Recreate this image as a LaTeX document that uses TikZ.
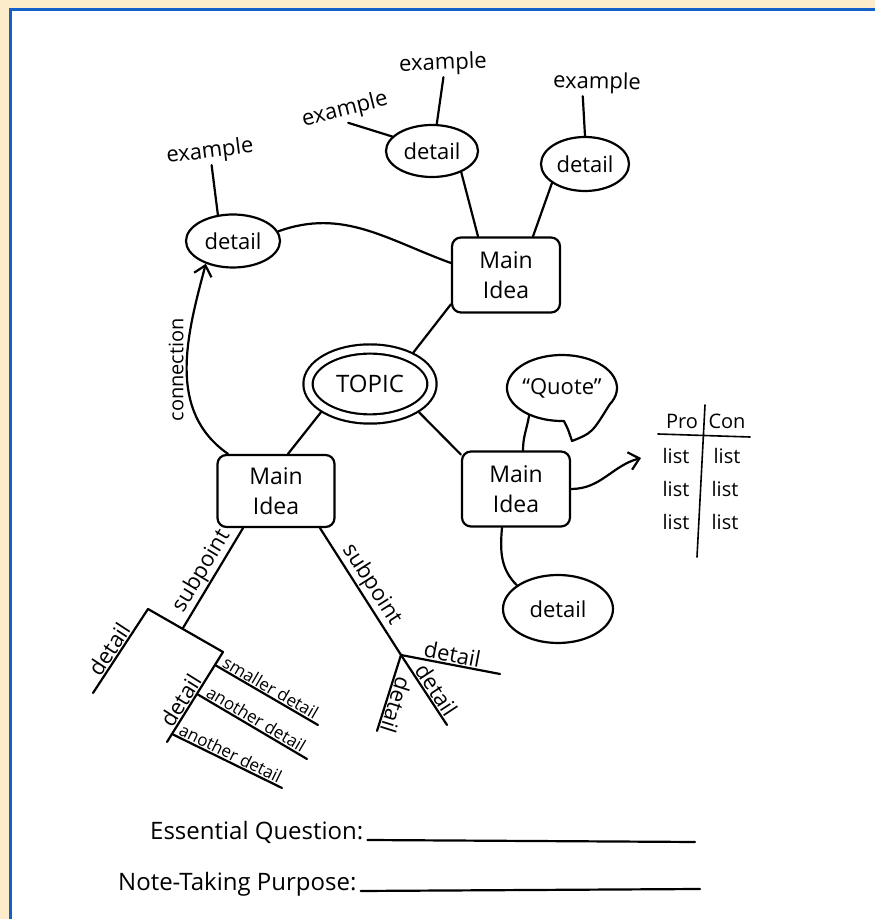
\documentclass[tikz,border=0pt]{standalone}
\usepackage{fontspec}
\setmainfont{Open Sans}
\usepackage{tikz}
\usetikzlibrary{arrows.meta,positioning,shapes.geometric}
\definecolor{pagebeige}{RGB}{253,236,201}
\definecolor{frameblue}{RGB}{18,96,200}
\tikzset{
  pen/.style={draw=black,line width=2.2pt,line cap=round,line join=round},
  hand/.style={font=\fontsize{22}{30}\selectfont,inner sep=2pt},
  tablehand/.style={font=\fontsize{20}{24}\selectfont,inner sep=2pt},
  smallhand/.style={font=\fontsize{17}{20}\selectfont},
  detailbubble/.style={
    pen,ellipse,hand,minimum width=92pt,minimum height=52pt,inner sep=0pt
  },
  ideabox/.style={
    pen,rectangle,rounded corners=9pt,hand,align=center,
    font=\fontsize{23}{30}\selectfont,minimum width=108pt,minimum height=75pt
  },
  topicring/.style={
    ellipse,draw=black,line width=2.2pt,double=white,double distance=7pt,
    minimum width=124pt,minimum height=70pt,outer sep=6pt,
    font=\fontsize{24}{28}\selectfont
  },
  linelabel/.style={hand,sloped,above,inner sep=1pt},
  openarrow/.style={pen,-{Straight Barb[length=10pt,width=18pt]}},
  askline/.style={font=\fontsize{24}{28}\selectfont,anchor=base west,inner sep=0pt}
}
\begin{document}
\begin{tikzpicture}[x=1pt,y=1pt]
  \useasboundingbox (0,0) rectangle (875,919);
  \fill[pagebeige] (0,0) rectangle (875,919);
  \fill[white] (10,0) rectangle (875,910);
  \draw[frameblue,line width=3pt] (10.5,0) -- (10.5,909.5) -- (875,909.5);

  \node[topicring] (topic) at (370,535) {TOPIC};
  \node[ideabox] (mT) at (506,644) {Main\\Idea};
  \node[ideabox,minimum width=117pt,minimum height=72pt] (mL) at (276,428) {Main\\Idea};
  \node[ideabox] (mR) at (516,430) {Main\\Idea};
  \node[detailbubble,minimum width=94pt,minimum height=53pt] (dTL) at (233,678) {detail};
  \node[detailbubble] (dT) at (432,768) {detail};
  \node[detailbubble,minimum width=88pt,minimum height=54pt] (dR) at (585,755) {detail};
  \node[detailbubble,minimum width=110pt,minimum height=68pt] (dB) at (558,310) {detail};
  \node[hand,rotate=7] (exTL) at (210,767) {example};
  \node[hand,rotate=2] (exT) at (443,855) {example};
  \node[hand,rotate=14] (exL) at (345,809) {example};
  \node[hand,rotate=-1] (exR) at (597,836) {example};
  \node[hand,ellipse,minimum width=110pt,minimum height=66pt] (quote) at (562,531) {``Quote''};
  \draw[pen] (609.6,514.5) arc[start angle=-30,end angle=272,x radius=55,y radius=33]
    .. controls (568,490) .. (572,478) .. controls (592,486) .. (609.6,514.5);

  \draw[pen] (exTL.south) -- (dTL.120);
  \draw[pen] (exT.south) -- (dT.80);
  \draw[pen] (exL.south) -- (dT.160);
  \draw[pen] ([xshift=-14pt]exR.south) -- (dR.north);
  \draw[pen] (dT.-36) -- ([xshift=-28pt]mT.north);
  \draw[pen] (dR.-150) -- ([xshift=27pt]mT.north);
  \draw[pen] (dTL.12) to[out=20,in=160] ([yshift=12pt]mT.west);
  \draw[pen] (mT.-152) -- (topic.36);
  \draw[pen] (topic.-150) -- ([xshift=12pt]mL.north);
  \draw[pen] (topic.-30) -- (mR.148);
  \draw[openarrow] ([xshift=-48pt]mL.north) to[out=145,in=-105]
    node[tablehand,pos=0.5,rotate=90,anchor=south] (connlabel) {connection} (dTL.-140);
  \draw[pen] (quote.-140) to[out=-100,in=90] ([xshift=7pt]mR.north);
  \draw[pen] ([xshift=-14pt]mR.south) to[out=-95,in=135] (dB.150);

  \coordinate (tableleft) at (641,461);
  \coordinate (tabletop) at (705,514);
  \coordinate (tablebottom) at (697,362);
  \coordinate (ruleleft) at (658,485);
  \coordinate (ruleright) at (750,482);
  \draw[openarrow] (mR.east) to[out=0,in=195] (tableleft);
  \draw[pen,line width=1.6pt] (tabletop) -- (tablebottom);
  \draw[pen,line width=1.6pt] (ruleleft) -- (ruleright);
  \node[tablehand,anchor=base] (pro) at (682,490) {Pro};
  \node[tablehand,anchor=base] (con) at (727,490) {Con};
  \node[tablehand,anchor=base] (proA) at (676,455) {list};
  \node[tablehand,anchor=base] (proB) at (676,422) {list};
  \node[tablehand,anchor=base] (proC) at (676,389) {list};
  \node[tablehand,anchor=base] (conA) at (727,455) {list};
  \node[tablehand,anchor=base] (conB) at (725,422) {list};
  \node[tablehand,anchor=base] (conC) at (725,389) {list};

  \coordinate (lfork) at (183,291);
  \coordinate (lbrackL) at (148,310);
  \coordinate (lbrackR) at (223,267);
  \coordinate (ldetA) at (93,226);
  \coordinate (ldetB) at (167,177);
  \coordinate (lsmallS) at (215,254);
  \coordinate (lsmallE) at (318,194);
  \coordinate (lanoS) at (197,225);
  \coordinate (lanoE) at (307,160);
  \coordinate (lanoSS) at (172,185);
  \coordinate (lanoEE) at (282,131);
  \draw[pen] ([xshift=-33pt]mL.south) -- node[linelabel] {subpoint} (lfork);
  \draw[pen] (lbrackL) -- (lbrackR);
  \draw[pen] (lbrackL) -- node[linelabel,pos=0.55] {detail} (ldetA);
  \draw[pen] (lbrackR) -- node[linelabel,pos=0.6] {detail} (ldetB);
  \draw[pen] (lsmallS) -- node[linelabel,smallhand] {smaller detail} (lsmallE);
  \draw[pen] (lanoS) -- node[linelabel,smallhand] {another detail} (lanoE);
  \draw[pen] (lanoSS) -- node[linelabel,smallhand] {another detail} (lanoEE);

  \coordinate (rfork) at (401,264);
  \coordinate (rdetA) at (500,245);
  \coordinate (rdetB) at (447,194);
  \coordinate (rdetC) at (377,188);
  \draw[pen] ([xshift=44pt]mL.south) -- node[linelabel] {subpoint} (rfork);
  \draw[pen] (rfork) -- node[linelabel] {detail} (rdetA);
  \draw[pen] (rfork) -- node[linelabel,pos=0.58] {detail} (rdetB);
  \draw[pen] (rfork) -- node[linelabel,pos=0.62,allow upside down] {detail} (rdetC);

  \node[askline] (essq) at (150,79) {Essential Question:};
  \draw[pen] ([xshift=4pt]essq.base east) -- (695,77);
  \node[askline] (purpose) at (118,28) {Note-Taking Purpose:};
  \draw[pen] ([xshift=4pt]purpose.base east) -- (700,30);
\end{tikzpicture}
\end{document}
